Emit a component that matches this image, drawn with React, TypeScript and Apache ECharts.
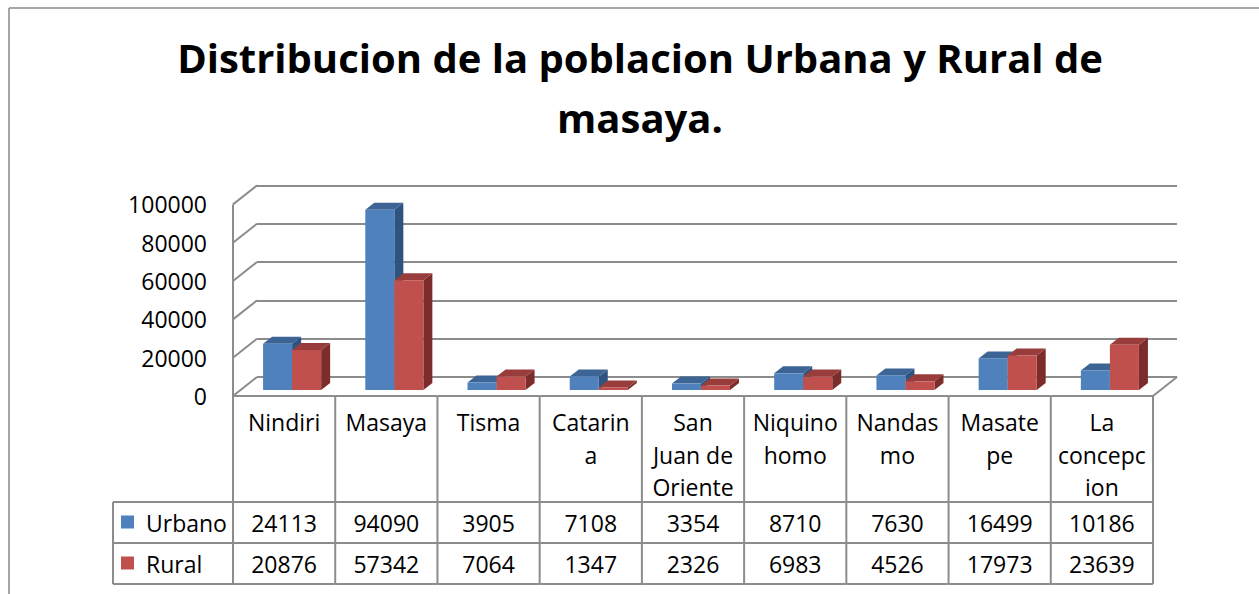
import { useEffect, useRef } from "react";
import * as echarts from "echarts";

// ---------- data ----------
const CATEGORIES = [
  "Nindiri",
  "Masaya",
  "Tisma",
  "Catarina",
  "San Juan de Oriente",
  "Niquinohomo",
  "Nandasmo",
  "Masatepe",
  "La concepcion",
];
// labels as they wrap inside the data-table header cells
const CATEGORY_LABELS = [
  "Nindiri",
  "Masaya",
  "Tisma",
  "Catarin\na",
  "San\nJuan de\nOriente",
  "Niquino\nhomo",
  "Nandas\nmo",
  "Masate\npe",
  "La\nconcepc\nion",
];
const URBANO = [24113, 94090, 3905, 7108, 3354, 8710, 7630, 16499, 10186];
const RURAL = [20876, 57342, 7064, 1347, 2326, 6983, 4526, 17973, 23639];
const SERIES_NAMES = ["Urbano", "Rural"];
const Y_TICKS = [0, 20000, 40000, 60000, 80000, 100000];
const Y_MIN = 0;
const Y_MAX = 100000;
const Y_INTERVAL = 20000;
const TITLE = "Distribucion de la poblacion Urbana y Rural de\nmasaya.";

// ---------- styling / layout ----------
const FONT = "'Open Sans', 'Noto Sans', sans-serif";
const LINE = "#8c8c8c";
const COLORS = [
  { front: "#4f81bd", top: "#3c6494", side: "#2f5380" },
  { front: "#c0504d", top: "#983d3b", side: "#7b2c2b" },
];
const FRONT_LEFT = 233;
const PLOT_W = 920;
const FRONT_BOTTOM = 396;
const PLOT_H = 191.6;
const DEPTH_X = 24;
const DEPTH_Y = 19;
const BAR_OFF_X = 8;
const BAR_OFF_Y = 6;
const BAR_DX = 9;
const BAR_DY = 7;
const BAR_FRAC = 0.284;
const TABLE_LEFT = 113;
const ROW_Y = [502, 543, 584];

function buildOption() {
  const yAxisBase = {
    type: "value",
    min: Y_MIN,
    max: Y_MAX,
    interval: Y_INTERVAL,
  };
  const xAxisBase = { type: "category", data: CATEGORIES, show: false };

  const barSeries = [URBANO, RURAL].map((vals, s) => ({
    type: "custom",
    name: SERIES_NAMES[s],
    xAxisIndex: 2,
    yAxisIndex: 2,
    silent: true,
    data: vals.map((v, i) => [i, v]),
    encode: { x: 0, y: 1 },
    renderItem: (params: any, api: any) => {
      const i = api.value(0);
      const v = api.value(1);
      const base = api.coord([i, 0]);
      const top = api.coord([i, v]);
      const band = api.size([1, 0])[0];
      const w = band * BAR_FRAC;
      const x0 = s === 0 ? base[0] - w : base[0];
      const by = base[1];
      const ty = top[1];
      const c = COLORS[s];
      return {
        type: "group",
        children: [
          {
            type: "polygon",
            shape: {
              points: [
                [x0 + w, ty],
                [x0 + w + BAR_DX, ty - BAR_DY],
                [x0 + w + BAR_DX, by - BAR_DY],
                [x0 + w, by],
              ],
            },
            style: { fill: c.side },
          },
          {
            type: "polygon",
            shape: {
              points: [
                [x0, ty],
                [x0 + w, ty],
                [x0 + w + BAR_DX, ty - BAR_DY],
                [x0 + BAR_DX, ty - BAR_DY],
              ],
            },
            style: { fill: c.top },
          },
          {
            type: "rect",
            shape: { x: x0, y: ty, width: w, height: by - ty },
            style: { fill: c.front },
          },
        ],
      };
    },
  }));

  const wallSeries = {
    type: "custom",
    xAxisIndex: 1,
    yAxisIndex: 1,
    silent: true,
    z: 1,
    data: Y_TICKS.map((v) => [0, v]),
    encode: { x: 0, y: 1 },
    renderItem: (params: any, api: any) => {
      const v = api.value(1);
      const y = api.coord([0, v])[1];
      const cs = params.coordSys;
      const children: any[] = [
        {
          type: "line",
          shape: { x1: cs.x, y1: y, x2: cs.x - DEPTH_X, y2: y + DEPTH_Y },
          style: { stroke: LINE, lineWidth: 2 },
        },
      ];
      if (v === Y_MIN) {
        children.push({
          type: "line",
          shape: {
            x1: cs.x + cs.width,
            y1: y,
            x2: cs.x + cs.width - DEPTH_X,
            y2: y + DEPTH_Y,
          },
          style: { stroke: LINE, lineWidth: 2 },
        });
      }
      return { type: "group", children };
    },
  };

  const tableSeries = {
    type: "custom",
    xAxisIndex: 0,
    yAxisIndex: 0,
    silent: true,
    data: CATEGORIES.map((_, i) => [i, 0]),
    encode: { x: 0, y: 1 },
    renderItem: (params: any, api: any) => {
      const i = params.dataIndex;
      const p = api.coord([i, 0]);
      const band = api.size([1, 0])[0];
      const cx = p[0];
      const left = cx - band / 2;
      const right = cx + band / 2;
      const top = p[1];
      const ls = { stroke: LINE, lineWidth: 2 };
      const children: any[] = [
        { type: "line", shape: { x1: left, y1: top, x2: right, y2: top }, style: ls },
        ...ROW_Y.map((y) => ({
          type: "line",
          shape: { x1: left, y1: y, x2: right, y2: y },
          style: ls,
        })),
        {
          type: "line",
          shape: { x1: right, y1: top, x2: right, y2: ROW_Y[2] },
          style: ls,
        },
        {
          type: "text",
          style: {
            text: CATEGORY_LABELS[i],
            x: cx,
            y: top + 9.75,
            align: "center",
            verticalAlign: "top",
            lineHeight: 32.5,
            fontSize: 23,
            fontFamily: FONT,
            fill: "#000",
          },
        },
        {
          type: "text",
          style: {
            text: String(URBANO[i]),
            x: cx,
            y: (ROW_Y[0] + ROW_Y[1]) / 2,
            align: "center",
            verticalAlign: "middle",
            fontSize: 23,
            fontFamily: FONT,
            fill: "#000",
          },
        },
        {
          type: "text",
          style: {
            text: String(RURAL[i]),
            x: cx,
            y: (ROW_Y[1] + ROW_Y[2]) / 2,
            align: "center",
            verticalAlign: "middle",
            fontSize: 23,
            fontFamily: FONT,
            fill: "#000",
          },
        },
      ];
      if (i === 0) {
        children.push({
          type: "line",
          shape: { x1: left, y1: params.coordSys.y, x2: left, y2: ROW_Y[2] },
          style: ls,
        });
      }
      return { type: "group", children };
    },
  };

  const legendGraphics: any[] = [];
  ROW_Y.forEach((y) =>
    legendGraphics.push({
      type: "line",
      shape: { x1: TABLE_LEFT, y1: y, x2: FRONT_LEFT, y2: y },
      style: { stroke: LINE, lineWidth: 2 },
    })
  );
  legendGraphics.push({
    type: "line",
    shape: { x1: TABLE_LEFT, y1: ROW_Y[0], x2: TABLE_LEFT, y2: ROW_Y[2] },
    style: { stroke: LINE, lineWidth: 2 },
  });
  SERIES_NAMES.forEach((name, s) => {
    const cy = (ROW_Y[s] + ROW_Y[s + 1]) / 2;
    legendGraphics.push({
      type: "rect",
      shape: { x: 121, y: cy - 7, width: 13, height: 13 },
      style: { fill: COLORS[s].front },
    });
    legendGraphics.push({
      type: "text",
      x: 146,
      y: cy,
      style: {
        text: name,
        verticalAlign: "middle",
        fontSize: 23,
        fontFamily: FONT,
        fill: "#000",
      },
    });
  });

  return {
    animation: false,
    backgroundColor: "#fff",
    graphic: [
      {
        type: "line",
        shape: { x1: 9, y1: 8, x2: 1259, y2: 8 },
        style: { stroke: "#888", lineWidth: 1.5 },
      },
      {
        type: "line",
        shape: { x1: 9, y1: 8, x2: 9, y2: 594 },
        style: { stroke: "#888", lineWidth: 1.5 },
      },
      {
        type: "text",
        x: 640,
        y: 27,
        style: {
          text: TITLE,
          align: "center",
          verticalAlign: "top",
          lineHeight: 60,
          fontSize: 40,
          fontWeight: "bold",
          fontFamily: FONT,
          fill: "#000",
        },
      },
      ...legendGraphics,
    ],
    grid: [
      {
        left: FRONT_LEFT,
        top: FRONT_BOTTOM - PLOT_H,
        width: PLOT_W,
        height: PLOT_H,
        outerBoundsMode: "none",
      },
      {
        left: FRONT_LEFT + DEPTH_X,
        top: FRONT_BOTTOM - DEPTH_Y - PLOT_H,
        width: PLOT_W,
        height: PLOT_H,
        outerBoundsMode: "none",
      },
      {
        left: FRONT_LEFT + BAR_OFF_X,
        top: FRONT_BOTTOM - BAR_OFF_Y - PLOT_H,
        width: PLOT_W,
        height: PLOT_H,
        outerBoundsMode: "none",
      },
    ],
    xAxis: [
      { ...xAxisBase, gridIndex: 0 },
      { ...xAxisBase, gridIndex: 1 },
      { ...xAxisBase, gridIndex: 2 },
    ],
    yAxis: [
      {
        ...yAxisBase,
        gridIndex: 0,
        axisLine: { show: false },
        axisTick: { show: false },
        splitLine: { show: false },
        axisLabel: {
          fontSize: 23,
          fontFamily: FONT,
          color: "#000",
          margin: 26,
          formatter: (v: number) => String(v),
        },
      },
      {
        ...yAxisBase,
        gridIndex: 1,
        axisLine: { show: false },
        axisTick: { show: false },
        axisLabel: { show: false },
        splitLine: { show: true, lineStyle: { color: LINE, width: 2 } },
      },
      { ...yAxisBase, gridIndex: 2, show: false },
    ],
    series: [wallSeries, tableSeries, ...barSeries],
  };
}

export default function App() {
  const ref = useRef<HTMLDivElement>(null);
  useEffect(() => {
    const chart = echarts.init(ref.current!, null, { renderer: "svg" });
    chart.setOption(buildOption() as any);
    return () => chart.dispose();
  }, []);
  return (
    <div
      ref={ref}
      style={{
        position: "fixed",
        left: 0,
        top: 0,
        width: 1259,
        height: 594,
        background: "#fff",
      }}
    />
  );
}
